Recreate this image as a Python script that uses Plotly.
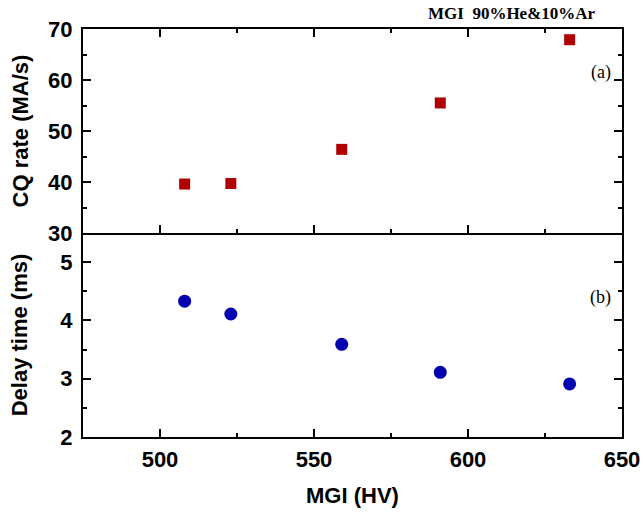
import plotly.graph_objects as go

mgi_hv = [508, 523, 559, 591, 633]
cq_rate = [39.6, 39.7, 46.4, 55.5, 67.9]
delay_ms = [4.33, 4.11, 3.59, 3.11, 2.91]

ML, MR, MT, MB = 83, 21, 29, 78
W, H = 643, 515
plot_w = W - ML - MR
plot_h = H - MT - MB


def px_x(px):
    return (px - ML) / plot_w


def px_y(py):
    return (H - MB - py) / plot_h


fig = go.Figure()
fig.add_trace(go.Scatter(x=mgi_hv, y=cq_rate, mode="markers",
                         marker=dict(symbol="square", size=11, color="#B00000"),
                         xaxis="x2", yaxis="y2", showlegend=False))
fig.add_trace(go.Scatter(x=mgi_hv, y=delay_ms, mode="markers",
                         marker=dict(symbol="circle", size=13, color="#0000B0"),
                         xaxis="x", yaxis="y", showlegend=False))

tickfont = dict(family="Liberation Sans, Arial", size=22, color="black", weight="bold")
titlefont = dict(family="Liberation Sans, Arial", size=22, color="black", weight="bold")
axcommon = dict(showline=True, linecolor="black", linewidth=2, ticks="inside",
                ticklen=8, tickwidth=2, tickcolor="black", showgrid=False,
                zeroline=False, tickfont=tickfont, automargin=False)
minor_common = dict(ticks="inside", ticklen=4, tickwidth=2, tickcolor="black", showgrid=False)
serif = "Liberation Serif, Times New Roman"

fig.update_layout(
    width=W, height=H,
    margin=dict(l=ML, r=MR, t=MT, b=MB),
    plot_bgcolor="white", paper_bgcolor="white",
    xaxis=dict(**axcommon, domain=[0, 1], range=[475, 650], dtick=50, mirror=False,
               minor=dict(dtick=25, **minor_common), ticklabelstandoff=2,
               title=dict(text="MGI (HV)", font=titlefont, standoff=16),
               anchor="y"),
    yaxis=dict(**axcommon, domain=[0, 0.5], range=[2, 5.5], tickvals=[2, 3, 4, 5], mirror="ticks",
               minor=dict(tickvals=[2.5, 3.5, 4.5], **minor_common), ticklabelstandoff=4,
               title=dict(text="Delay time (ms)", font=titlefont, standoff=27),
               anchor="x"),
    xaxis2=dict(**axcommon, domain=[0, 1], range=[475, 650], dtick=50, mirror="ticks",
                minor=dict(dtick=25, **minor_common),
                showticklabels=False, anchor="y2", matches="x"),
    yaxis2=dict(**axcommon, domain=[0.5, 1], range=[30, 70], dtick=10, mirror="ticks",
                minor=dict(dtick=5, **minor_common), ticklabelstandoff=4,
                title=dict(text="CQ rate (MA/s)", font=titlefont, standoff=13),
                anchor="x2"),
    annotations=[
        dict(text="MGI  90%He&amp;10%Ar", x=px_x(512), y=px_y(14), xref="paper", yref="paper",
             xanchor="center", yanchor="middle", showarrow=False,
             font=dict(family=serif, size=17, color="black", weight="bold")),
        dict(text="(a)", x=px_x(601), y=px_y(73), xref="paper", yref="paper",
             xanchor="center", yanchor="middle", showarrow=False,
             font=dict(family=serif, size=18, color="black")),
        dict(text="(b)", x=px_x(600), y=px_y(297), xref="paper", yref="paper",
             xanchor="center", yanchor="middle", showarrow=False,
             font=dict(family=serif, size=18, color="black")),
    ],
)

fig.write_html("out.html", config={"displayModeBar": False},
               post_script="document.body.style.margin='0';")
